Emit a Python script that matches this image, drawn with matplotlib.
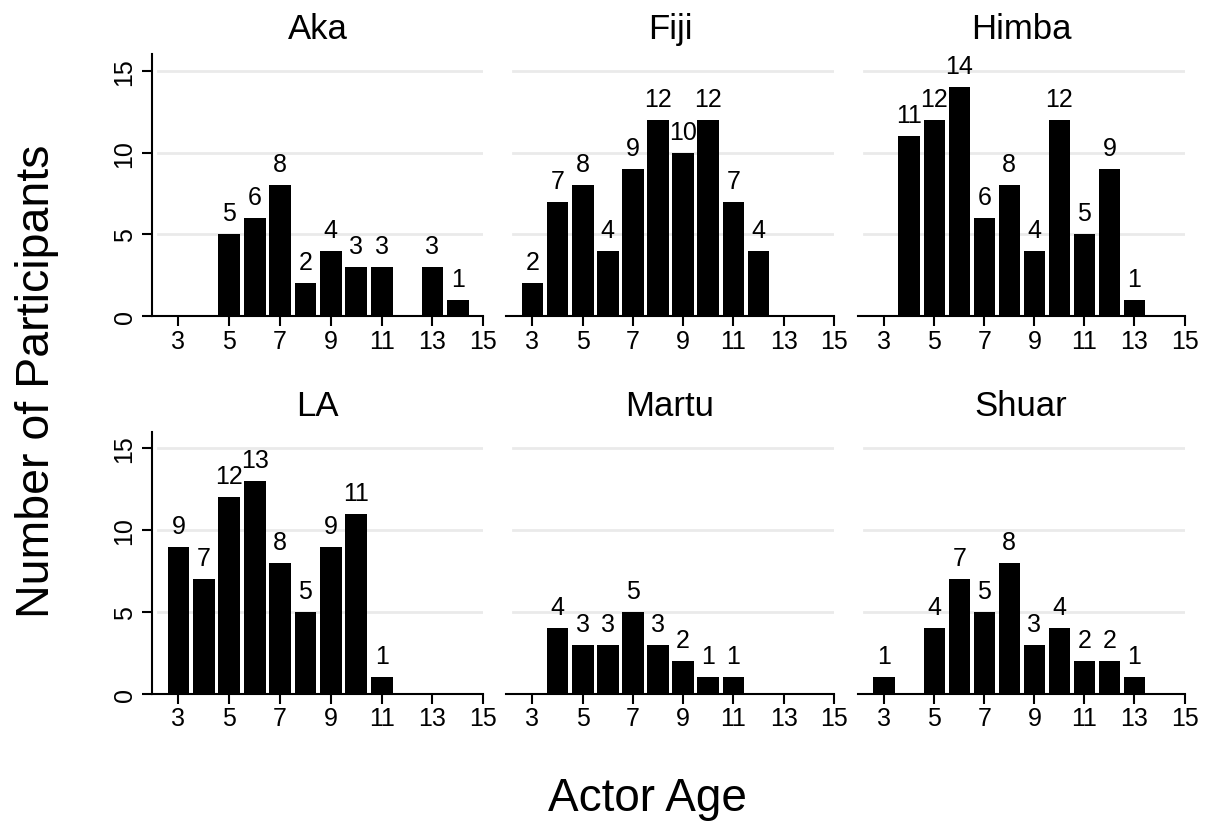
import matplotlib
matplotlib.use("Agg")
import matplotlib.pyplot as plt

plt.rcParams['font.family'] = ['Liberation Sans', 'DejaVu Sans']

groups = ["Aka", "Fiji", "Himba", "LA", "Martu", "Shuar"]
aka_ages = [5, 6, 7, 8, 9, 10, 11, 13, 14]
aka_counts = [5, 6, 8, 2, 4, 3, 3, 3, 1]
fiji_ages = [3, 4, 5, 6, 7, 8, 9, 10, 11, 12]
fiji_counts = [2, 7, 8, 4, 9, 12, 10, 12, 7, 4]
himba_ages = [4, 5, 6, 7, 8, 9, 10, 11, 12, 13]
himba_counts = [11, 12, 14, 6, 8, 4, 12, 5, 9, 1]
la_ages = [3, 4, 5, 6, 7, 8, 9, 10, 11]
la_counts = [9, 7, 12, 13, 8, 5, 9, 11, 1]
martu_ages = [4, 5, 6, 7, 8, 9, 10, 11]
martu_counts = [4, 3, 3, 5, 3, 2, 1, 1]
shuar_ages = [3, 5, 6, 7, 8, 9, 10, 11, 12, 13]
shuar_counts = [1, 4, 7, 5, 8, 3, 4, 2, 2, 1]

data = [(aka_ages, aka_counts), (fiji_ages, fiji_counts), (himba_ages, himba_counts),
        (la_ages, la_counts), (martu_ages, martu_counts), (shuar_ages, shuar_counts)]

x_ticks = [3, 5, 7, 9, 11, 13, 15]
y_ticks = [0, 5, 10, 15]

fig = plt.figure(figsize=(12.05, 8.28), dpi=100)
lefts = [0.126, 0.420, 0.712]
widths = [0.275, 0.272, 0.271]
bottoms = [0.617, 0.161]
height = 0.316

for i, (name, (ages, counts)) in enumerate(zip(groups, data)):
    r, c = divmod(i, 3)
    ax = fig.add_axes([lefts[c], bottoms[r], widths[c], height])
    ax.set_xlim(1.95, 15)
    ax.set_ylim(0, 16)
    for y in [5, 10, 15]:
        ax.axhline(y, color='#eaeaea', lw=2, zorder=0, xmin=0.02)
    ax.bar(ages, counts, width=0.86, color='black', zorder=2)
    for a, n in zip(ages, counts):
        ax.text(a, n + 0.55, str(n), ha='center', va='bottom', fontsize=18)
    ax.set_title(name, fontsize=25, pad=12)
    ax.set_xticks(x_ticks)
    ax.set_xticklabels([str(t) for t in x_ticks], fontsize=18)
    ax.tick_params(axis='x', length=7, width=1.5, pad=2)
    for s in ['top', 'right']:
        ax.spines[s].set_visible(False)
    ax.spines['bottom'].set_linewidth(1.5)
    if c == 0:
        ax.spines['left'].set_linewidth(1.5)
        ax.set_yticks(y_ticks)
        ax.set_yticklabels([str(t) for t in y_ticks], fontsize=18, rotation=90, va='center')
        ax.tick_params(axis='y', length=7, width=1.5, pad=4)
    else:
        ax.spines['left'].set_visible(False)
        ax.set_yticks([])

fig.text(0.031, 0.54, "Number of Participants", rotation=90, ha='center', va='center', fontsize=33.5)
fig.text(0.537, 0.035, "Actor Age", ha='center', va='center', fontsize=33)

fig.savefig("out.png", dpi=100)
